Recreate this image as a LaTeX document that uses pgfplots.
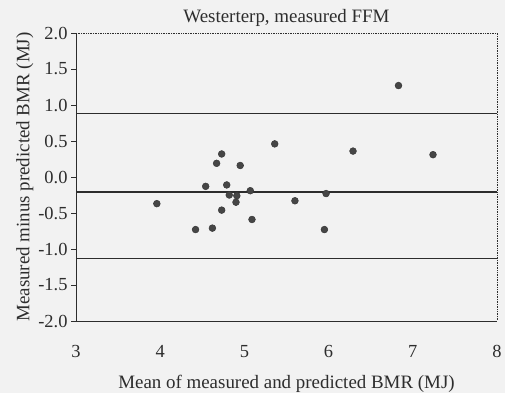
\documentclass[border=0pt]{standalone}
\usepackage{pgfplots}
\pgfplotsset{compat=1.18}
\usepackage{fontspec}
\setmainfont{Liberation Serif}
\definecolor{bg}{RGB}{242,242,242}
\definecolor{ink}{RGB}{45,45,45}
\definecolor{dot}{RGB}{70,70,70}
\begin{document}
\begin{tikzpicture}[x=1bp,y=1bp]
\path[use as bounding box,fill=bg] (-76,-72) rectangle (429,321);
\begin{axis}[
  at={(0,0)}, anchor=south west,
  scale only axis, width=421bp, height=288bp,
  xmin=3, xmax=8, ymin=-2, ymax=2,
  axis x line*=bottom, axis y line*=left,
  axis line style={ink, line width=0.9bp},
  xtick={3,4,5,6,7,8}, ytick={-2,-1.5,...,2},
  x tick style={draw=none},
  y tick style={ink, line width=0.8bp},
  tick align=outside, major tick length=5bp,
  yticklabel style={/pgf/number format/.cd, fixed, fixed zerofill, precision=1},
  /pgf/number format/assume math mode=true,
  tick label style={font=\fontsize{18.5}{20}\selectfont, text=ink},
  xticklabel style={yshift=-16bp},
  title={Westerterp, measured FFM},
  title style={font=\fontsize{19}{20}\selectfont, text=ink, yshift=-3bp},
  xlabel={Mean of measured and predicted BMR (MJ)},
  ylabel={Measured minus predicted BMR (MJ)},
  label style={font=\fontsize{19}{20}\selectfont, text=ink},
  xlabel style={yshift=-10bp},
  ylabel style={yshift=-2bp},
  clip=false,
]
\draw[ink, densely dotted, line width=0.7bp] (rel axis cs:0,1) -- (rel axis cs:1,1) -- (rel axis cs:1,0);
\addplot[ink, line width=1.5bp, forget plot] coordinates {(3,0.88) (8,0.88)};
\addplot[ink, line width=1.5bp, forget plot] coordinates {(3,-0.21) (8,-0.21)};
\addplot[ink, line width=1.5bp, forget plot] coordinates {(3,-1.13) (8,-1.13)};
\addplot[only marks, mark=*, mark size=3.4bp, mark options={fill=dot, draw=dot!80!black, line width=0.5bp}] coordinates {
(3.96,-0.37)
(4.42,-0.73)
(4.62,-0.71)
(4.54,-0.13)
(4.67,0.19)
(4.73,0.32)
(4.79,-0.11)
(4.73,-0.46)
(4.82,-0.25)
(4.91,-0.26)
(4.90,-0.35)
(4.95,0.16)
(5.07,-0.19)
(5.09,-0.59)
(5.36,0.46)
(5.60,-0.33)
(5.97,-0.23)
(5.95,-0.73)
(6.29,0.36)
(6.83,1.27)
(7.24,0.31)
};
\end{axis}
\end{tikzpicture}
\end{document}
